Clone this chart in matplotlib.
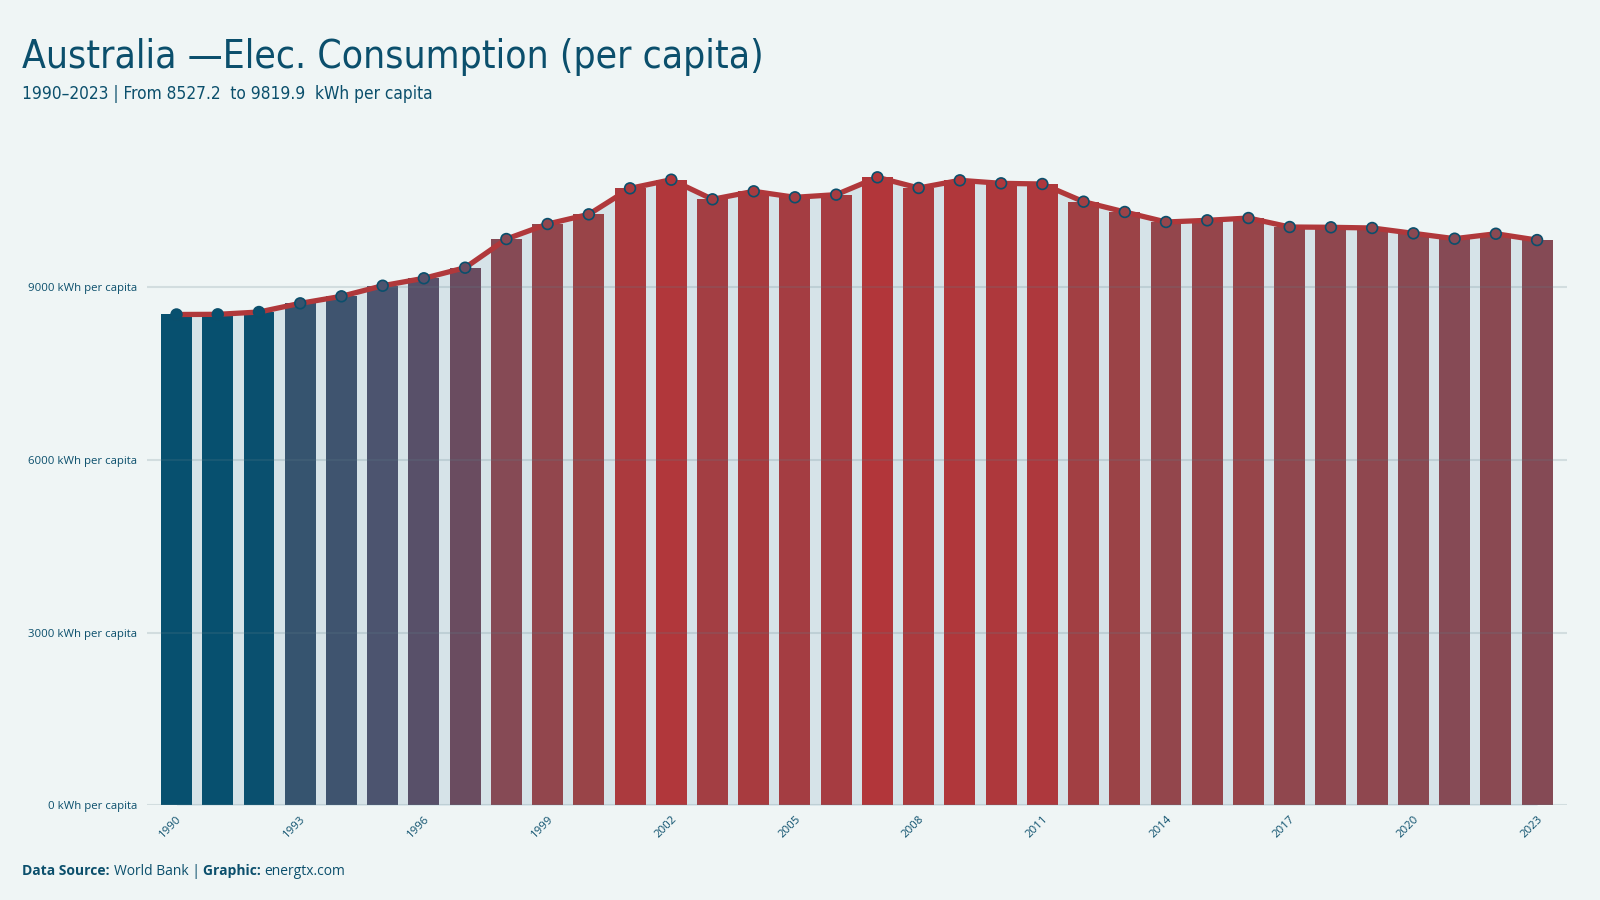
import matplotlib
matplotlib.use("Agg")
import matplotlib.pyplot as plt
import numpy as np
from matplotlib import font_manager
from matplotlib.font_manager import FontProperties
from matplotlib.colors import LinearSegmentedColormap, Normalize

# data
years = list(range(1990, 2024))
kwh = [8527.2, 8530, 8570, 8721, 8843, 9027, 9156, 9340, 9838, 10099,
       10267, 10719, 10869, 10528, 10667, 10563, 10609, 10910, 10725, 10858,
       10806, 10794, 10487, 10308, 10134, 10163, 10203, 10047, 10042, 10030,
       9937, 9844, 9930, 9819.9]
yticks = [0, 3000, 6000, 9000]
xtick_years = list(range(1990, 2024, 3))

bg = '#eff5f5'
navy = '#0b4f6c'
red = '#b0383b'

# look for a narrow face for the title
narrow = [f for f in font_manager.fontManager.ttflist
          if ('Condensed' in f.fname or 'Narrow' in f.fname)
          and 'Bold' not in f.fname and 'Oblique' not in f.fname
          and 'Italic' not in f.fname]
if narrow:
    tprop = FontProperties(fname=narrow[0].fname)
    tsize, ssize = 28, 12.4
else:
    tprop = FontProperties(family='DejaVu Sans')
    tsize, ssize = 25, 11
body = 'Open Sans'

fig = plt.figure(figsize=(16, 9), dpi=100, facecolor=bg)
ax = fig.add_axes([0.0919, 0.1052, 0.9791 - 0.0919, 0.8407 - 0.1052])
ax.set_facecolor(bg)

x = np.arange(len(years))
y = np.array(kwh)

cmap = LinearSegmentedColormap.from_list(
    'bluered', [(0, '#07506f'), (0.03, '#0c506f'), (0.08, '#37546f'),
                (0.2, '#4a5470'), (0.27, '#5a5068'), (0.34, '#6a4c60'),
                (0.55, '#864a55'), (0.7, '#96454a'), (1.0, '#b2363a')])
norm = Normalize(vmin=min(kwh), vmax=max(kwh))
cols = cmap(norm(y))

ax.fill_between(x, 0, y, color='#d6e3e8', lw=0, zorder=1)
ax.bar(x, y, width=0.75, color=cols, zorder=2)
ax.plot(x, y, color=red, lw=3.8, zorder=3, solid_joinstyle='round')
ax.scatter(x, y, s=60, c=cols, edgecolors=navy, linewidths=1.2, zorder=4)

for t in yticks:
    ax.axhline(t, color='#5f7f8a', alpha=0.2, lw=1.5, zorder=2.5)

ax.set_xlim(-0.715, len(years) - 1 + 0.715)
ax.set_ylim(0, 11500)
ax.set_yticks(yticks)
ax.set_yticklabels([f'{t} kWh per capita' for t in yticks], fontsize=8.2,
                   color=navy, family=body)
ax.set_xticks([years.index(v) for v in xtick_years])
ax.set_xticklabels([str(v) for v in xtick_years], rotation=45, ha='right',
                   rotation_mode='anchor', fontsize=8.2, color=navy, family=body)
ax.tick_params(axis='both', length=0)
ax.tick_params(axis='y', pad=7)
ax.tick_params(axis='x', pad=6)
for s in ax.spines.values():
    s.set_visible(False)

fig.text(0.014, 0.9244, 'Australia \u2014Elec. Consumption (per capita)',
         fontsize=tsize, color=navy, fontproperties=tprop, va='baseline')
fig.text(0.014, 0.890, '1990\u20132023 | From 8527.2  to 9819.9  kWh per capita',
         fontsize=ssize, color=navy, fontproperties=tprop, va='baseline')

# footer with bold and regular parts
parts = [('Data Source: ', 'bold'), ('World Bank | ', 'normal'),
         ('Graphic: ', 'bold'), ('energtx.com', 'normal')]
fig.canvas.draw()
r = fig.canvas.get_renderer()
xpos = 0.014
for txt, w in parts:
    t = fig.text(xpos, 0.028, txt, fontsize=10, color=navy, family=body,
                 fontweight=w, va='baseline')
    bb = t.get_window_extent(renderer=r)
    xpos += bb.width / fig.bbox.width

fig.savefig('out.png', dpi=100, facecolor=bg)
